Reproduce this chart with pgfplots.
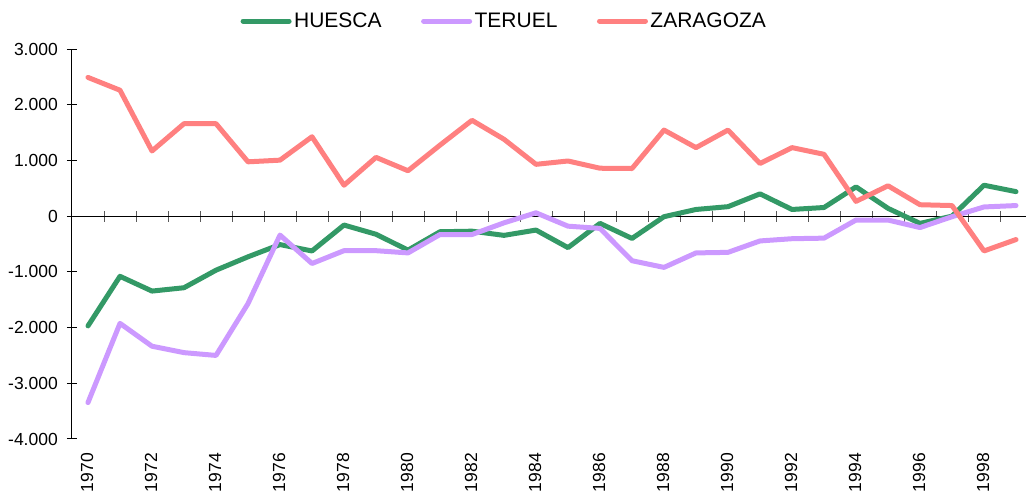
\documentclass[border=0pt]{standalone}
\usepackage{fontspec}
\setmainfont{Liberation Sans}
\usepackage{pgfplots}
\pgfplotsset{compat=1.18}
\definecolor{hue}{HTML}{339966}
\definecolor{ter}{HTML}{CC99FF}
\definecolor{zar}{HTML}{FF8080}
\begin{document}
\begin{tikzpicture}
\useasboundingbox (-72pt,-56pt) rectangle (954pt,439pt);
% zero line with category ticks
\begin{axis}[
  at={(0pt,0pt)}, anchor=south west,
  scale only axis, width=954pt, height=390pt,
  xmin=1969.5, xmax=1999.3125, ymin=-4000, ymax=3000,
  axis x line=middle, axis y line=none,
  axis line style={-, line width=1pt, black},
  xtick={1970.5,1971.5,1972.5,1973.5,1974.5,1975.5,1976.5,1977.5,1978.5,1979.5,1980.5,1981.5,1982.5,1983.5,1984.5,1985.5,1986.5,1987.5,1988.5,1989.5,1990.5,1991.5,1992.5,1993.5,1994.5,1995.5,1996.5,1997.5,1998.5},
  xticklabels={}, ytick=\empty,
  tick align=center, major tick length=11pt,
  xtick style={line width=1pt, black!65},
]
\end{axis}
\begin{axis}[
  at={(0pt,0pt)}, anchor=south west,
  scale only axis, width=954pt, height=390pt,
  xmin=1969.5, xmax=1999.3125, ymin=-4000, ymax=3000,
  axis y line*=left, axis x line*=bottom,
  axis line style={-, line width=1pt, black},
  x axis line style={draw=none},
  ytick={-4000,-3000,-2000,-1000,0,1000,2000,3000},
  yticklabels={-4.000,-3.000,-2.000,-1.000,0,1.000,2.000,3.000},
  xtick={1970,1972,1974,1976,1978,1980,1982,1984,1986,1988,1990,1992,1994,1996,1998},
  xticklabels={1970,1972,1974,1976,1978,1980,1982,1984,1986,1988,1990,1992,1994,1996,1998},
  xtick style={draw=none},
  ytick style={line width=1pt, black},
  tick align=center, major tick length=10pt,
  ticklabel style={font=\fontsize{17.5}{20}\selectfont},
  xticklabel style={rotate=90, anchor=east, inner sep=0pt, xshift=-9pt, yshift=1pt},
  yticklabel style={anchor=east, inner sep=0pt, xshift=-9pt},
  legend columns=3,
  legend style={at={(0.4534,1.0718)}, anchor=center, draw=none, fill=none,
    font=\fontsize{21}{24}\selectfont,
    nodes={inner sep=2.5pt},
    /tikz/every even column/.append style={column sep=37pt}},
  legend image code/.code={\draw[#1] (2.5pt,0pt) -- (48.5pt,0pt);},
  every axis plot/.append style={line width=5pt, line join=round, line cap=round},
]
\addplot[hue] coordinates {
(1970,-1970) (1971,-1080) (1972,-1345) (1973,-1285) (1974,-970) (1975,-730)
(1976,-510) (1977,-625) (1978,-160) (1979,-325) (1980,-610) (1981,-280)
(1982,-270) (1983,-345) (1984,-250) (1985,-565) (1986,-130) (1987,-400)
(1988,-10) (1989,120) (1990,170) (1991,400) (1992,120) (1993,155)
(1994,525) (1995,140) (1996,-130) (1997,0) (1998,555) (1999,440)};
\addlegendentry{HUESCA}
\addplot[ter] coordinates {
(1970,-3345) (1971,-1925) (1972,-2335) (1973,-2450) (1974,-2500) (1975,-1570)
(1976,-340) (1977,-850) (1978,-620) (1979,-620) (1980,-660) (1981,-330)
(1982,-330) (1983,-120) (1984,60) (1985,-180) (1986,-220) (1987,-800)
(1988,-920) (1989,-660) (1990,-650) (1991,-445) (1992,-405) (1993,-395)
(1994,-70) (1995,-70) (1996,-205) (1997,-10) (1998,165) (1999,190)};
\addlegendentry{TERUEL}
\addplot[zar] coordinates {
(1970,2490) (1971,2260) (1972,1170) (1973,1660) (1974,1660) (1975,975)
(1976,1005) (1977,1425) (1978,555) (1979,1055) (1980,815) (1981,1275)
(1982,1720) (1983,1380) (1984,930) (1985,990) (1986,860) (1987,855)
(1988,1545) (1989,1230) (1990,1545) (1991,945) (1992,1230) (1993,1110)
(1994,265) (1995,545) (1996,205) (1997,190) (1998,-625) (1999,-420)};
\addlegendentry{ZARAGOZA}
\end{axis}
\end{tikzpicture}
\end{document}
